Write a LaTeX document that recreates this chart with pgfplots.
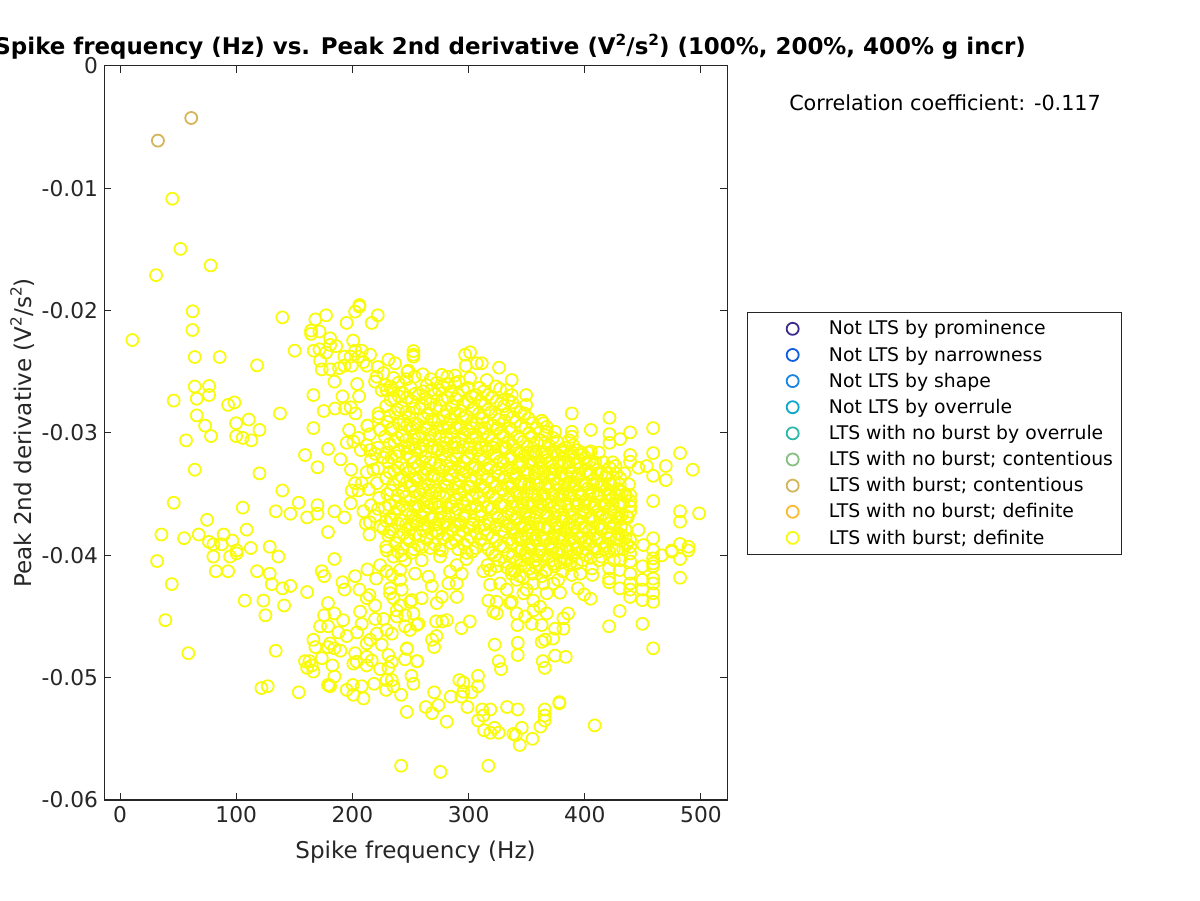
\documentclass[border=0pt]{standalone}
\usepackage{pgfplots}
\pgfplotsset{compat=1.18}
\usepackage{fontspec}
\setmainfont{DejaVu Sans}
\definecolor{axc}{HTML}{262626}
\definecolor{c1}{HTML}{3B2D8F}
\definecolor{c2}{HTML}{0F5DE0}
\definecolor{c3}{HTML}{1A85E0}
\definecolor{c4}{HTML}{0BA8D0}
\definecolor{c5}{HTML}{2EB8A8}
\definecolor{c6}{HTML}{85C080}
\definecolor{c7}{HTML}{D4B55A}
\definecolor{c8}{HTML}{FBBB30}
\definecolor{c9}{HTML}{F9FB0E}
\newcommand{\supt}[1]{\raisebox{0.42em}{\fontsize{11.5pt}{11.5pt}\selectfont #1}}
\begin{document}
\begin{tikzpicture}
\clip (0,0) rectangle (900pt,675pt);
\begin{axis}[
  at={(78pt,75pt)},anchor=south west,scale only axis,width=467.25pt,height=550.5pt,
  clip=false,scaled y ticks=false,scaled x ticks=false,
  xmin=-13.8,xmax=522.4,ymin=-0.06,ymax=0,
  xtick={0,100,200,300,400,500},xticklabels={0,100,200,300,400,500},
  ytick={-0.06,-0.05,-0.04,-0.03,-0.02,-0.01,0},
  yticklabels={-0.06,-0.05,-0.04,-0.03,-0.02,-0.01,0},
  tick align=inside,major tick length=5.2pt,
  axis line style={axc,line width=0.75pt},
  every tick/.style={axc,line width=0.75pt},
  tick label style={font=\fontsize{16.3pt}{16.3pt}\selectfont,text=axc},
  xticklabel style={yshift=-1pt},
  yticklabel style={xshift=-1pt},
  xlabel={Spike frequency (Hz)},
  ylabel={Peak 2nd derivative (V\supt{2}/s\supt{2})},
  label style={font=\fontsize{17.3pt}{17.3pt}\selectfont,text=axc},
  xlabel style={yshift=-7pt},
  ylabel style={yshift=-1.25pt},
  title={\bfseries Spike frequency (Hz) vs. Peak 2nd derivative (V\supt{2}/s\supt{2}) (100\%, 200\%, 400\% g incr)},
  title style={at={(0.652,1)},anchor=base,yshift=2.4pt,font=\fontsize{17.2pt}{17.2pt}\selectfont,text=black},
  legend cell align=left,
  legend style={at={(1.032,0.665)},anchor=north west,draw=axc,line width=0.6pt,
    font=\fontsize{14.1pt}{14.1pt}\selectfont,text=black,inner xsep=0pt,inner ysep=2.6pt,
    row sep=0pt,
    nodes={inner sep=0pt,minimum height=19.6pt,anchor=west}},
  legend image code/.code={\path[draw=none,fill=none] (0pt,-3pt) rectangle (61.2pt,3pt);\draw[#1,mark=o,mark size=4.5pt,line width=1.35pt,only marks] plot coordinates {(34pt,0)};},
  legend entries={Not LTS by prominence,Not LTS by narrowness,Not LTS by shape,Not LTS by overrule,LTS with no burst by overrule,LTS with no burst; contentious\hspace*{6pt},LTS with burst; contentious,LTS with no burst; definite,LTS with burst; definite},
]
\addlegendimage{c1}
\addlegendimage{c2}
\addlegendimage{c3}
\addlegendimage{c4}
\addlegendimage{c5}
\addlegendimage{c6}
\addplot[only marks,mark=o,mark size=4.5pt,color=c7,mark options={line width=1.35pt}] table[row sep=\\,header=false,x index=0,y expr=\thisrowno{1}/1000]{
32.6 -6.1\\ 61.3 -4.25\\
};
\addlegendimage{c8}
\addplot[only marks,mark=o,mark size=4.5pt,color=c9,mark options={line width=1.35pt}] table[row sep=\\,header=false,x index=0,y expr=\thisrowno{1}/1000]{
45 -10.85\\ 52 -14.95\\ 78 -16.3\\ 31 -17.1\\
62.5 -20.05\\ 62.3 -21.58\\ 10.6 -22.4\\ 139.7 -20.55\\ 168.1 -20.71\\ 177.3 -20.38\\ 164.4 -21.63\\ 164.4 -21.9\\ 171.6 -21.7\\ 195 -21\\ 202.3 -20.08\\ 206 -19.54\\ 206 -19.67\\ 216.6 -21\\ 221.8 -20.38\\ 180.8 -22.26\\ 180.8 -22.8\\ 186 -22.9\\ 200.6 -22.45\\ 150.3 -23.27\\ 166.7 -23.27\\ 171.6 -23.16\\ 177.3 -23.43\\ 202.3 -23.27\\ 208 -23.27\\ 215.2 -23.6\\ 193.1 -23.76\\ 198.5 -23.76\\ 205.1 -23.76\\ 64.3 -23.79\\ 85.8 -23.79\\ 117.9 -24.47\\ 172.2 -24.09\\ 173.6 -24.8\\ 180.8 -24.8\\ 188.5 -24.7\\ 193.1 -24.5\\ 199.4 -24.5\\ 209.5 -24.2\\ 212.3 -24.5\\ 221.8 -24.6\\ 231 -24\\ 236.7 -24.3\\ 226.7 -25.1\\ 235.3 -25.5\\ 184.5 -25.8\\ 219.5 -25.8\\ 204 -26\\ 228 -26.1\\ 225.2 -26.5\\ 235 -26.5\\ 64.3 -26.2\\ 76.6 -26.16\\ 76.6 -26.9\\ 46.2 -27.35\\ 66 -27.2\\ 93 -27.7\\ 98.4 -27.5\\ 166.4 -26.9\\ 191.4 -27\\ 205.7 -27\\ 137.7 -28.4\\ 66 -28.56\\ 73.2 -29.4\\ 99.9 -29.2\\ 110.8 -28.9\\ 120 -29.75\\ 78.3 -30.25\\ 56.8 -30.6\\ 99.9 -30.25\\ 105.6 -30.4\\ 113 -30.6\\ 175.3 -28.2\\ 185 -28\\ 193.7 -28\\ 198.5 -27.9\\ 202.6 -28.4\\ 166.4 -29.6\\ 212.9 -29.4\\ 197.1 -29.75\\ 222.4 -28.4\\ 222.4 -28.7\\ 223.8 -29.75\\ 179 -31.3\\ 159.2 -31.8\\ 195.1 -30.8\\ 200.8 -30.7\\ 205.2 -30.4\\ 189.7 -32.15\\ 207.2 -31.4\\ 212.3 -31\\ 169.9 -32.8\\ 198.8 -33\\ 64.3 -33\\ 120 -33.3\\ 212.3 -33.2\\ 218 -33\\ 215.2 -31.4\\ 219.5 -31.7\\ 226.7 -32\\ 139.7 -34.7\\ 46.2 -35.7\\ 105.6 -36.1\\ 153.8 -35.7\\ 134 -36.4\\ 146.6 -36.6\\ 169.9 -35.9\\ 169.9 -36.6\\ 161 -36.9\\ 184.5 -36.4\\ 193.1 -36.9\\ 74.9 -37.1\\ 109 -37.9\\ 179 -38.1\\ 198.5 -35.75\\ 209.5 -36.4\\ 199.4 -34.7\\ 202.3 -34.1\\ 208 -34.1\\ 205.1 -34.7\\ 219.5 -36.8\\ 211.5 -37.4\\ 214.6 -38.3\\ 226.7 -37.8\\ 233.9 -37.1\\ 35.6 -38.3\\ 55.1 -38.6\\ 67.7 -38.3\\ 89.2 -38.3\\ 76.6 -38.9\\ 80.4 -39.1\\ 96.7 -38.8\\ 87.5 -39.1\\ 100.4 -39.6\\ 112.5 -39.4\\ 128.8 -39.3\\ 229.5 -39.6\\
31.9 -40.47\\ 80.3 -40.1\\ 94.7 -40.1\\ 100.4 -39.84\\ 136.3 -40.1\\ 184.5 -40.3\\ 82.4 -41.3\\ 93 -41.3\\ 117.9 -41.3\\ 128.8 -41.5\\ 130.6 -42.35\\ 44.5 -42.35\\ 139.7 -42.7\\ 146.6 -42.5\\ 161 -43\\ 107.3 -43.7\\ 123.4 -43.7\\ 141.2 -44.1\\ 125.1 -44.9\\ 39 -45.3\\ 58.8 -48\\ 134 -47.8\\ 173.6 -41.3\\ 175.6 -41.7\\ 191.4 -42.2\\ 193.1 -42.8\\ 202.3 -41.7\\ 212.9 -41.15\\ 220.4 -41.9\\ 223.8 -40.8\\ 206 -42.8\\ 214.6 -43.25\\ 212.3 -43.5\\ 229.5 -41.3\\ 233.9 -41.6\\ 241 -42\\ 232.4 -42.7\\ 242.4 -42.8\\ 179 -43.9\\ 175.6 -44.9\\ 184.5 -44.75\\ 192 -45.3\\ 172.2 -45.8\\ 179 -45.8\\ 187.9 -46.3\\ 195.1 -46.6\\ 204 -46.3\\ 166.4 -46.9\\ 168.1 -47.5\\ 179 -47.5\\ 180.8 -47.2\\ 184.5 -47.6\\ 189.7 -47.8\\ 202.3 -48\\ 173.6 -48.4\\ 159.2 -48.65\\ 163 -48.65\\ 161 -49.2\\ 166.4 -49.5\\ 165 -49\\ 182.8 -49\\ 184.5 -49.9\\ 179.9 -50.6\\ 179 -50.6\\ 180.8 -50.7\\ 121.7 -50.85\\ 127.1 -50.7\\ 153.8 -51.2\\ 195.1 -51\\ 200.3 -50.6\\ 200.8 -51.4\\ 208 -50.7\\ 209.5 -51.7\\ 218.6 -50.5\\ 229 -51\\ 235.3 -50.7\\ 241.9 -51.4\\ 233.9 -50.2\\ 229.5 -50.2\\ 250.8 -49.85\\ 252.5 -50.5\\ 246.8 -52.8\\ 241.9 -57.2\\ 200.8 -48.85\\ 203.7 -48.7\\ 212.3 -48.3\\ 212.3 -49\\ 216.6 -48.6\\ 223.8 -49.3\\ 231 -49.2\\ 233.9 -48.7\\ 231 -48.15\\ 245.3 -48.5\\ 246.8 -47.65\\ 255.4 -48.65\\ 212.3 -47.2\\ 215.2 -46.9\\ 225.2 -47.3\\ 220.9 -46.4\\ 229.5 -46.1\\ 233.9 -46.4\\ 208 -45.6\\ 206.6 -44.6\\ 219.5 -45.2\\ 226.7 -45.2\\ 238.1 -45\\ 245.3 -45.8\\ 249.6 -46.1\\ 255.4 -45.7\\ 252.5 -44.75\\ 219.5 -44.1\\ 232.4 -43.1\\ 235.3 -43.5\\ 241 -44.1\\ 249.6 -43.8\\ 238.1 -44.5\\ 253.9 -41.5\\ 241 -41.2\\ 235.3 -40.1\\ 242.4 -40\\
482 -41.83\\ 482 -40.3\\ 458.8 -47.6\\ 449.6 -45.6\\ 420.9 -45.8\\ 430 -44.55\\ 458.8 -43.8\\ 449.6 -43.66\\ 439 -43.4\\ 439 -42.8\\ 430 -42.7\\ 420.9 -42.2\\ 405 -43.55\\ 399.4 -43.2\\ 394 -42.7\\ 406.5 -41.6\\ 388.8 -41.6\\ 458.8 -43.1\\ 458.8 -42.3\\ 458.8 -41.9\\ 458.8 -40.9\\ 458.8 -40.25\\ 449.6 -42.8\\ 449.6 -42\\ 449.6 -40.9\\ 439 -42.3\\ 439 -41.5\\ 439 -40.5\\ 430 -41.2\\ 420.9 -41.07\\ 420.9 -41.9\\ 466.2 -40\\ 474.8 -39.7\\ 489 -39.6\\ 385.6 -44.75\\ 381.6 -45.15\\ 381.6 -46\\ 374.4 -46\\ 372.7 -46.8\\ 365.8 -46.9\\ 362.9 -47.07\\ 383.6 -48.3\\ 374.4 -48.2\\ 363.8 -48.65\\ 365.5 -49.2\\ 342.3 -47.15\\ 342.3 -48.15\\ 322.5 -47.3\\ 325.9 -48.65\\ 327.9 -49.3\\ 301 -45.4\\ 293.8 -45.95\\ 281.2 -45.3\\ 277.4 -45.4\\ 272 -45.4\\ 272.3 -46.6\\ 268.5 -46.9\\ 270.3 -47.5\\ 247 -47.6\\ 255.9 -48.65\\ 308.1 -49.85\\ 292 -50.2\\ 295.5 -50.4\\ 308.1 -50.7\\ 302.7 -51.2\\ 293.8 -51.55\\ 295.5 -51.15\\ 284.6 -51.55\\ 270.3 -51.2\\ 274 -52.25\\ 263.1 -52.4\\ 268.5 -52.9\\ 299 -52.4\\ 281.2 -53.6\\ 311.6 -52.6\\ 318.7 -52.6\\ 333.1 -52.4\\ 342.3 -52.6\\ 312.7 -53.1\\ 308.1 -53.5\\ 365.5 -52.6\\ 365.5 -53.1\\ 365.5 -53.5\\ 361.8 -54\\ 378.1 -52\\ 378.1 -52.1\\ 408.5 -53.9\\ 345.7 -54.1\\ 338.5 -54.6\\ 340.6 -54.7\\ 354.9 -55\\ 344 -55.5\\ 313.3 -54.3\\ 318.7 -54.5\\ 322.2 -54.1\\ 325.9 -54.5\\ 275.7 -57.7\\ 317 -57.2\\
316.2 -40.8\\ 312.7 -41.3\\ 318.5 -41.2\\ 324.2 -40.9\\ 318.5 -42.4\\ 327 -42.3\\ 317 -43.7\\ 324.2 -43.8\\ 321.3 -44.6\\ 324.2 -44.75\\ 337 -41.5\\ 341.4 -42\\ 355.8 -42.3\\ 350 -42.8\\ 332.8 -42.8\\ 337.1 -43.8\\ 347.2 -43.1\\ 355.8 -43.7\\ 367.2 -43.1\\ 364.4 -42.3\\ 373 -42.3\\ 378.7 -43.05\\ 341.4 -44.75\\ 348.6 -45\\ 342 -45.7\\ 354.3 -45.6\\ 362.9 -45.7\\ 367.2 -44.75\\ 361.5 -44.2\\ 355.8 -44.5\\ 335.7 -43.9\\ 268.3 -42.5\\ 265.4 -41.75\\ 251 -43.65\\ 259.6 -43.5\\ 272.6 -43.9\\ 276.9 -43.4\\ 245.3 -44.9\\ 256.8 -45.6\\ 289.8 -43.4\\ 289.8 -42.3\\ 282.6 -42.3\\ 294.1 -41.5\\ 284 -41.3\\ 289.8 -40.8\\ 275.4 -40.1\\ 259.6 -40.4\\ 245.3 -40.4\\ 298.4 -39.8\\ 396 -41.5\\ 393.1 -40.66\\ 406 -41.07\\ 430.4 -40.4\\
252.5 -23.3\\ 252.5 -23.6\\ 252.5 -23.76\\ 297 -23.6\\ 301.3 -23.4\\ 297.5 -24.5\\ 307 -24.3\\ 311.3 -24.3\\ 326.2 -24.66\\ 247.3 -25\\ 315.6 -25.67\\ 337.1 -25.67\\ 332.8 -26.5\\ 337.1 -26.9\\ 349.5 -26.9\\ 349.5 -27.7\\ 388.8 -28.4\\ 421.2 -28.75\\ 405.1 -29.75\\ 421.2 -30.1\\ 421.2 -30.8\\ 430.4 -30.5\\ 439 -29.95\\ 458.8 -29.6\\ 458.8 -31.64\\ 482 -31.64\\ 492.9 -33\\ 469.7 -32.7\\ 469.7 -33.85\\ 458.8 -33.5\\ 453.3 -32.7\\ 446.1 -32.84\\ 439 -31.8\\ 439 -32.35\\ 426.4 -32.7\\ 421.2 -32.84\\ 430.4 -33.7\\ 405.1 -31.5\\ 388.8 -29.9\\ 388.8 -30.3\\ 374.4 -29.9\\ 364.4 -29.2\\ 367.3 -29.9\\ 458.8 -35.56\\ 439 -35.07\\ 439 -35.56\\ 439 -36\\ 482 -36.4\\ 482 -37.25\\ 498.4 -36.57\\ 458.8 -38.6\\ 446.1 -37.93\\ 482 -39.07\\ 489.2 -39.3\\ 474.8 -39.6\\ 458.8 -39.57\\ 458.8 -40.66\\ 439 -38.75\\ 439 -39.3\\ 439 -39.84\\ 450.4 -39.16\\ 431.8 -36.7\\ 439 -36.43\\ 430.4 -36\\ 421.8 -35.07\\ 421.8 -35.5\\
276.8 -25.25\\ 281.7 -25.4\\ 288.3 -25.3\\ 301.2 -25.5\\ 272.5 -25.9\\ 248.1 -24.9\\ 220.8 -25.4\\ 229.5 -26.5\\ 212.8 -29.4\\ 223.7 -29.75\\ 362.9 -29\\ 367.2 -29.5\\ 365.7 -30.2\\
222 -31.2\\ 222 -32.9\\ 221 -34.1\\ 223 -35.3\\ 222 -36.2\\ 224 -37.6\\
229 -27.8\\ 230 -29.1\\ 228 -30.3\\ 229 -31.6\\ 231 -32.4\\ 229 -33.7\\ 230 -35\\ 228 -36.1\\ 229 -37.2\\ 231 -38.4\\ 229 -39.3\\
236 -27.2\\ 237 -28.3\\ 235 -29.6\\ 236 -30.7\\ 238 -31.9\\ 236 -33.1\\ 235 -34.2\\ 237 -35.6\\ 236 -36.6\\ 234 -37.9\\ 237 -39\\
243 -26.7\\ 242 -27.9\\ 244 -29\\ 243 -30.2\\ 245 -31.1\\ 242 -32.5\\ 243 -33.6\\ 244 -34.8\\ 243 -35.9\\ 241 -37.1\\ 244 -38.2\\ 243 -39.4\\
250 -26.3\\ 251 -27.4\\ 249 -28.7\\ 250 -29.7\\ 252 -30.9\\ 250 -32\\ 249 -33.2\\ 251 -34.3\\ 250 -35.5\\ 252 -36.7\\ 250 -37.8\\ 249 -38.8\\ 251 -39.8\\
257 -26.9\\ 258 -28\\ 256 -29.3\\ 257 -30.4\\ 259 -31.5\\ 257 -32.7\\ 256 -33.9\\ 258 -35\\ 257 -36\\ 255 -37.3\\ 258 -38.4\\ 257 -39.2\\
264 -26.1\\ 263 -27.2\\ 265 -28.4\\ 264 -29.5\\ 266 -30.6\\ 263 -31.9\\ 264 -33\\ 265 -34.2\\ 264 -35.4\\ 262 -36.4\\ 265 -37.6\\ 264 -38.7\\
271 -26.8\\ 272 -27.9\\ 270 -29\\ 271 -30.1\\ 273 -31.3\\ 271 -32.4\\ 270 -33.5\\ 272 -34.7\\ 271 -35.8\\ 269 -36.9\\ 272 -38\\ 271 -39.1\\
278 -26.2\\ 277 -27.3\\ 279 -28.6\\ 278 -29.6\\ 280 -30.8\\ 277 -31.8\\ 278 -33.1\\ 279 -34.3\\ 278 -35.2\\ 276 -36.5\\ 279 -37.5\\ 278 -38.6\\ 277 -39.6\\
285 -26.6\\ 286 -27.8\\ 284 -28.9\\ 285 -30\\ 287 -31.2\\ 285 -32.3\\ 284 -33.4\\ 286 -34.6\\ 285 -35.7\\ 283 -36.8\\ 286 -37.9\\ 285 -39\\
292 -25.8\\ 291 -26.9\\ 293 -28.2\\ 292 -29.4\\ 294 -30.5\\ 291 -31.6\\ 292 -32.8\\ 293 -33.9\\ 292 -35\\ 290 -36.2\\ 293 -37.3\\ 292 -38.4\\ 291 -39.5\\
299 -26.3\\ 300 -27.5\\ 298 -28.6\\ 299 -29.8\\ 301 -30.9\\ 299 -32\\ 298 -33.2\\ 300 -34.4\\ 299 -35.5\\ 297 -36.7\\ 300 -37.7\\ 299 -38.8\\ 298 -40.3\\
306 -26.9\\ 305 -28\\ 307 -29.2\\ 306 -30.3\\ 308 -31.4\\ 305 -32.6\\ 306 -33.7\\ 307 -34.9\\ 306 -36\\ 304 -37.1\\ 307 -38.2\\ 306 -39.4\\
313 -26.6\\ 314 -27.7\\ 312 -28.8\\ 313 -30\\ 315 -31.1\\ 313 -32.2\\ 312 -33.4\\ 314 -34.5\\ 313 -35.6\\ 311 -36.8\\ 314 -37.9\\ 313 -39.1\\
320 -27.1\\ 319 -28.3\\ 321 -29.4\\ 320 -30.6\\ 322 -31.7\\ 319 -32.8\\ 320 -34\\ 321 -35.1\\ 320 -36.2\\ 318 -37.4\\ 321 -38.5\\ 320 -39.8\\
327 -26.4\\ 328 -27.6\\ 326 -28.9\\ 327 -30\\ 329 -31.2\\ 327 -32.3\\ 326 -33.5\\ 328 -34.6\\ 327 -35.8\\ 325 -36.9\\ 328 -38\\ 327 -39.2\\ 326 -40.4\\
334 -27.3\\ 333 -28.5\\ 335 -29.6\\ 334 -30.8\\ 336 -31.9\\ 333 -33\\ 334 -34.2\\ 335 -35.3\\ 334 -36.5\\ 332 -37.6\\ 335 -38.7\\ 334 -39.9\\ 333 -41\\
341 -28\\ 340 -29.1\\ 342 -30.3\\ 341 -31.4\\ 343 -32.5\\ 340 -33.7\\ 341 -34.8\\ 342 -36\\ 341 -37.1\\ 339 -38.2\\ 342 -39.4\\ 341 -40.5\\ 340 -41.3\\
348 -28.4\\ 349 -29.6\\ 347 -30.7\\ 348 -31.8\\ 350 -33\\ 348 -34.1\\ 347 -35.2\\ 349 -36.4\\ 348 -37.5\\ 346 -38.6\\ 349 -39.8\\ 348 -40.9\\ 347 -41.8\\
355 -29.2\\ 354 -30.3\\ 356 -31.5\\ 355 -32.6\\ 357 -33.7\\ 354 -34.9\\ 355 -36\\ 356 -37.1\\ 355 -38.3\\ 353 -39.4\\ 356 -40.5\\ 355 -41.5\\
362 -30.6\\ 363 -31.7\\ 361 -32.9\\ 362 -34\\ 364 -35.1\\ 362 -36.3\\ 361 -37.4\\ 363 -38.5\\ 362 -39.7\\ 360 -40.8\\ 363 -41.7\\
369 -31\\ 368 -32.2\\ 370 -33.3\\ 369 -34.4\\ 371 -35.6\\ 368 -36.7\\ 369 -37.8\\ 370 -39\\ 369 -40.1\\ 367 -41.2\\
376 -30.7\\ 377 -31.8\\ 375 -33\\ 376 -34.1\\ 378 -35.2\\ 376 -36.4\\ 375 -37.5\\ 377 -38.6\\ 376 -39.8\\ 374 -40.9\\ 377 -42\\
383 -31.2\\ 382 -32.4\\ 384 -33.5\\ 383 -34.6\\ 385 -35.8\\ 382 -36.9\\ 383 -38\\ 384 -39.2\\ 383 -40.3\\ 381 -41.3\\
390 -31\\ 391 -32.1\\ 389 -33.2\\ 390 -34.4\\ 392 -35.5\\ 390 -36.6\\ 389 -37.8\\ 391 -38.9\\ 390 -40\\ 388 -40.6\\
397 -31.8\\ 396 -32.9\\ 398 -34\\ 397 -35.2\\ 399 -36.3\\ 396 -37.4\\ 397 -38.6\\ 398 -39.7\\
404 -32.3\\ 405 -33.4\\ 403 -34.5\\ 404 -35.7\\ 406 -36.8\\ 404 -37.9\\ 403 -39.1\\ 405 -40.2\\
411 -33\\ 410 -34.1\\ 412 -35.2\\ 411 -36.4\\ 413 -37.5\\ 410 -38.6\\ 411 -39.7\\
418 -33.6\\ 419 -34.6\\ 417 -35.9\\ 418 -37\\ 420 -38.1\\ 418 -39.2\\
425 -34\\ 424 -35.3\\ 426 -36.4\\ 425 -37.5\\ 427 -38.7\\
432 -34.8\\ 433 -35.7\\ 431 -37.6\\ 432 -38.4\\
215 -30.1\\ 216 -32.2\\ 214 -34.6\\ 216 -35.9\\ 215 -37.3\\
232.5 -26.2\\ 233 -27.3\\ 232 -28.6\\ 233 -29.7\\ 232 -30.9\\ 233.5 -32\\ 232 -33.2\\ 233 -34.7\\ 232 -35.9\\ 233 -37\\ 232 -38.1\\
239.5 -25.9\\ 240 -27\\ 239 -28.1\\ 240 -29.3\\ 239 -30.4\\ 240 -31.5\\ 239 -32.8\\ 240 -33.8\\ 239 -35.1\\ 240 -36.2\\ 239 -37.4\\ 240 -38.5\\ 239 -39.7\\
246.5 -25.6\\ 247 -27.1\\ 246 -28.3\\ 247 -29.4\\ 246 -30.6\\ 247 -31.7\\ 246 -32.9\\ 247 -34\\ 246 -35.2\\ 247 -36.3\\ 246 -37.5\\ 247 -38.6\\
253.5 -25.4\\ 254 -26.8\\ 253 -28\\ 254 -29.2\\ 253 -30.3\\ 254 -31.4\\ 253 -32.4\\ 254 -33.7\\ 253 -34.8\\ 254 -36.1\\ 253 -37.2\\ 254 -38.3\\ 253 -39.5\\
260.5 -25.2\\ 261 -26.6\\ 260 -27.7\\ 261 -28.8\\ 260 -30\\ 261 -31\\ 260 -32.3\\ 261 -33.4\\ 260 -34.6\\ 261 -35.7\\ 260 -36.9\\ 261 -38\\ 260 -39.3\\
267.5 -25.6\\ 268 -26.5\\ 267 -27.6\\ 268 -28.9\\ 267 -30.1\\ 268 -31.2\\ 267 -32.4\\ 268 -33.5\\ 267 -34.7\\ 268 -35.8\\ 267 -37\\ 268 -38.2\\ 267 -39.4\\
274.5 -26.5\\ 275 -27.8\\ 274 -29\\ 275 -30.3\\ 274 -31.4\\ 275 -32.6\\ 274 -33.7\\ 275 -34.9\\ 274 -36\\ 275 -37.1\\ 274 -38.2\\ 275 -39.5\\
281.5 -26\\ 282 -27.1\\ 281 -28.2\\ 282 -29.3\\ 281 -30.4\\ 282 -31.5\\ 281 -32.7\\ 282 -33.8\\ 281 -35\\ 282 -36.1\\ 281 -37.3\\ 282 -38.4\\
288.5 -25.9\\ 289 -27.2\\ 288 -28.4\\ 289 -29.6\\ 288 -30.8\\ 289 -31.9\\ 288 -33.1\\ 289 -34.2\\ 288 -35.4\\ 289 -36.5\\ 288 -37.6\\ 289 -38.8\\
295.5 -26.5\\ 296 -27.6\\ 295 -28.8\\ 296 -30\\ 295 -31.1\\ 296 -32.3\\ 295 -33.4\\ 296 -34.6\\ 295 -35.7\\ 296 -36.8\\ 295 -38\\ 296 -39.1\\
302.5 -27\\ 303 -28.1\\ 302 -29.2\\ 303 -30.4\\ 302 -31.6\\ 303 -32.8\\ 302 -33.9\\ 303 -35.1\\ 302 -36.2\\ 303 -37.4\\ 302 -38.5\\ 303 -39.7\\
309.5 -26.3\\ 310 -27.4\\ 309 -28.4\\ 310 -29.7\\ 309 -30.8\\ 310 -31.9\\ 309 -33\\ 310 -34.2\\ 309 -35.3\\ 310 -36.4\\ 309 -37.6\\ 310 -38.7\\
316.5 -26.9\\ 317 -28.1\\ 316 -29.2\\ 317 -30.3\\ 316 -31.5\\ 317 -32.6\\ 316 -33.8\\ 317 -34.9\\ 316 -36.1\\ 317 -37.2\\ 316 -38.3\\ 317 -39.5\\
323.5 -26.2\\ 324 -27.4\\ 323 -28.5\\ 324 -29.7\\ 323 -30.9\\ 324 -32\\ 323 -33.2\\ 324 -34.3\\ 323 -35.4\\ 324 -36.6\\ 323 -37.7\\ 324 -38.8\\ 323 -40\\
330.5 -27.8\\ 331 -29\\ 330 -30.2\\ 331 -31.3\\ 330 -32.4\\ 331 -33.6\\ 330 -34.7\\ 331 -35.9\\ 330 -37\\ 331 -38.1\\ 330 -39.3\\ 331 -40.5\\
337.5 -27.5\\ 338 -28.7\\ 337 -29.8\\ 338 -31\\ 337 -32.1\\ 338 -33.3\\ 337 -34.4\\ 338 -35.6\\ 337 -36.7\\ 338 -37.8\\ 337 -39\\ 338 -40.1\\ 337 -41.2\\
344.5 -28.3\\ 345 -29.4\\ 344 -30.5\\ 345 -31.7\\ 344 -32.8\\ 345 -34\\ 344 -35.1\\ 345 -36.3\\ 344 -37.4\\ 345 -38.5\\ 344 -39.7\\ 345 -40.8\\ 344 -41.7\\
351.5 -28.8\\ 352 -30\\ 351 -31.1\\ 352 -32.3\\ 351 -33.4\\ 352 -34.5\\ 351 -35.7\\ 352 -36.8\\ 351 -38\\ 352 -39.1\\ 351 -40.2\\ 352 -41.1\\
358.5 -29.6\\ 359 -30.8\\ 358 -31.9\\ 359 -33.1\\ 358 -34.2\\ 359 -35.4\\ 358 -36.5\\ 359 -37.7\\ 358 -38.8\\ 359 -40\\ 358 -41\\
365.5 -30.8\\ 366 -32\\ 365 -33.1\\ 366 -34.3\\ 365 -35.4\\ 366 -36.5\\ 365 -37.7\\ 366 -38.8\\ 365 -40\\ 366 -41.3\\
372.5 -30.4\\ 373 -31.5\\ 372 -32.7\\ 373 -33.8\\ 372 -35\\ 373 -36.1\\ 372 -37.2\\ 373 -38.4\\ 372 -39.5\\ 373 -40.7\\
379.5 -31.4\\ 380 -32.6\\ 379 -33.7\\ 380 -34.9\\ 379 -36\\ 380 -37.2\\ 379 -38.3\\ 380 -39.5\\ 379 -40.6\\
386.5 -30.6\\ 387 -31.7\\ 386 -32.8\\ 387 -34\\ 386 -35.1\\ 387 -36.3\\ 386 -37.4\\ 387 -38.6\\ 386 -39.7\\ 387 -40.8\\
393.5 -31.4\\ 394 -32.5\\ 393 -33.7\\ 394 -34.8\\ 393 -36\\ 394 -37.1\\ 393 -38.3\\ 394 -39.4\\
400.5 -32\\ 401 -33.1\\ 400 -34.3\\ 401 -35.5\\ 400 -36.6\\ 401 -37.8\\ 400 -38.9\\ 401 -40\\
407.5 -32.6\\ 408 -33.8\\ 407 -34.9\\ 408 -36.1\\ 407 -37.2\\ 408 -38.3\\ 407 -39.4\\
414.5 -33.3\\ 415 -34.4\\ 414 -35.6\\ 415 -36.7\\ 414 -37.9\\ 415 -39\\ 414 -40.1\\
421.5 -34.2\\ 422 -36.2\\ 421 -37.4\\ 422 -38.6\\ 421 -39.7\\
428.5 -34.6\\ 429 -35.8\\ 428 -37\\ 429 -38.2\\ 428 -39.5\\
435.5 -35.2\\ 436 -36.8\\ 435 -37.9\\ 436 -39.1\\
343 -31.6\\ 351 -31.6\\ 358 -31.6\\ 366 -31.6\\ 374 -31.6\\ 381 -31.6\\ 389 -31.6\\ 397 -31.6\\ 403 -31.6\\ 412 -31.6\\
346 -32.4\\ 354 -32.4\\ 362 -32.4\\ 370 -32.4\\ 378 -32.4\\ 386 -32.4\\ 393 -32.4\\ 401 -32.4\\ 409 -32.4\\ 416 -32.4\\ 424 -32.4\\
341 -33.3\\ 349 -33.3\\ 357 -33.3\\ 364 -33.3\\ 372 -33.3\\ 380 -33.3\\ 388 -33.3\\ 395 -33.3\\ 403 -33.3\\ 411 -33.3\\ 419 -33.3\\ 427 -33.3\\ 434 -33.3\\
345 -34.2\\ 352 -34.2\\ 360 -34.2\\ 368 -34.2\\ 376 -34.2\\ 383 -34.2\\ 391 -34.2\\ 399 -34.2\\ 407 -34.2\\ 414 -34.2\\ 422 -34.2\\ 430 -34.2\\ 438 -34.2\\
342 -35\\ 350 -35\\ 357 -35\\ 365 -35\\ 373 -35\\ 381 -35\\ 388 -35\\ 396 -35\\ 404 -35\\ 412 -35\\ 420 -35\\ 427 -35\\ 435 -35\\
346 -35.8\\ 354 -35.8\\ 362 -35.8\\ 369 -35.8\\ 377 -35.8\\ 385 -35.8\\ 393 -35.8\\ 400 -35.8\\ 408 -35.8\\ 416 -35.8\\ 424 -35.8\\ 431 -35.8\\
341 -36.9\\ 349 -36.9\\ 358 -36.9\\ 366 -36.9\\ 374 -36.9\\ 382 -36.9\\ 389 -36.9\\ 397 -36.9\\ 405 -36.9\\ 413 -36.9\\ 421 -36.9\\ 429 -36.9\\ 437 -36.9\\
345 -37.7\\ 353 -37.7\\ 360 -37.7\\ 368 -37.7\\ 376 -37.7\\ 384 -37.7\\ 391 -37.7\\ 399 -37.7\\ 407 -37.7\\ 415 -37.7\\ 423 -37.7\\ 431 -37.7\\
342 -38.6\\ 350 -38.6\\ 357 -38.6\\ 365 -38.6\\ 373 -38.6\\ 381 -38.6\\ 389 -38.6\\ 396 -38.6\\ 404 -38.6\\ 412 -38.6\\ 420 -38.6\\ 428 -38.6\\ 435 -38.6\\
346 -39.5\\ 354 -39.5\\ 362 -39.5\\ 370 -39.5\\ 378 -39.5\\ 385 -39.5\\ 393 -39.5\\ 401 -39.5\\ 409 -39.5\\ 417 -39.5\\ 425 -39.5\\ 433 -39.5\\
345 -40.4\\ 358 -40.4\\ 372 -40.4\\ 385 -40.4\\ 398 -40.4\\ 412 -40.4\\ 425 -40.4\\
252 -29.6\\ 262 -29.6\\ 272 -29.6\\ 283 -29.6\\ 293 -29.6\\ 303 -29.6\\ 314 -29.6\\ 325 -29.6\\ 335 -29.6\\
248 -31.2\\ 258 -31.2\\ 269 -31.2\\ 279 -31.2\\ 290 -31.2\\ 300 -31.2\\ 311 -31.2\\ 321 -31.2\\ 332 -31.2\\
253 -32.9\\ 263 -32.9\\ 274 -32.9\\ 284 -32.9\\ 295 -32.9\\ 305 -32.9\\ 316 -32.9\\ 326 -32.9\\ 337 -32.9\\
250 -34.4\\ 260 -34.4\\ 271 -34.4\\ 281 -34.4\\ 292 -34.4\\ 302 -34.4\\ 313 -34.4\\ 323 -34.4\\ 334 -34.4\\
254 -36\\ 265 -36\\ 275 -36\\ 286 -36\\ 296 -36\\ 307 -36\\ 317 -36\\ 328 -36\\ 338 -36\\
251 -37.5\\ 261 -37.5\\ 272 -37.5\\ 282 -37.5\\ 293 -37.5\\ 303 -37.5\\ 314 -37.5\\ 324 -37.5\\ 335 -37.5\\
};
\node[anchor=base west,inner sep=0pt,font=\fontsize{15.55pt}{15.55pt}\selectfont,text=black] at (rel axis cs:1.0995,0.9387) {Correlation coefficient: -0.117};
\end{axis}
\end{tikzpicture}
\end{document}
